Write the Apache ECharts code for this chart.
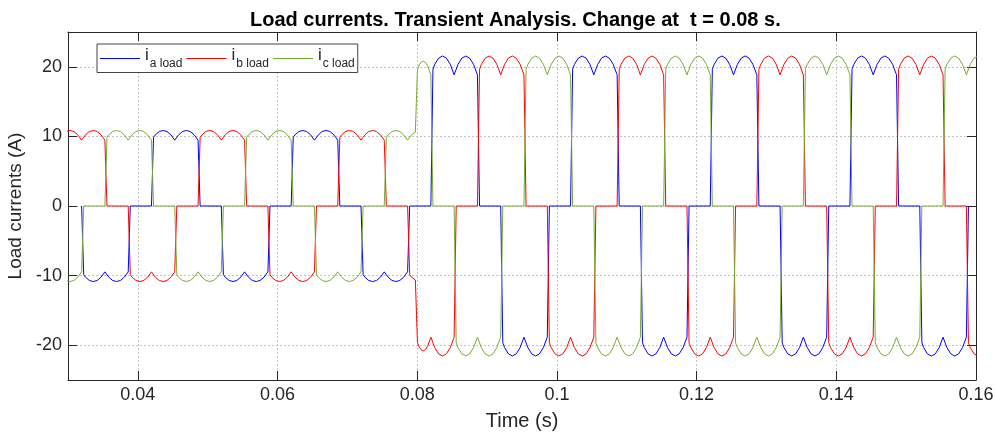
<!DOCTYPE html>
<html><head><meta charset="utf-8">
<script src="https://cdn.jsdelivr.net/npm/echarts@6/dist/echarts.min.js"></script>
<style>html,body{margin:0;padding:0;background:#fff}#c{width:995px;height:439px}</style>
</head><body><div id="c"></div>
<script>
// ---- tick labels ----
const xTicks = [0.04, 0.06, 0.08, 0.1, 0.12, 0.14, 0.16];
const yTicks = [-20, -10, 0, 10, 20];

// ---- DC-link (load) current read from the plateaus: [time s, current A] ----
const dcCurrent = [
[0.02862,9.46],[0.02918,10.23],[0.02973,10.70],[0.03029,10.85],[0.03084,10.70],[0.03140,10.23],
[0.03195,9.46],[0.03251,10.23],[0.03306,10.70],[0.03362,10.85],[0.03417,10.70],[0.03473,10.23],
[0.03528,9.46],[0.03584,10.23],[0.03639,10.70],[0.03695,10.85],[0.03750,10.70],[0.03806,10.23],
[0.03862,9.46],[0.03918,10.23],[0.03973,10.70],[0.04029,10.85],[0.04084,10.70],[0.04140,10.23],
[0.04195,9.46],[0.04251,10.23],[0.04306,10.70],[0.04362,10.85],[0.04417,10.70],[0.04473,10.23],
[0.04528,9.46],[0.04584,10.23],[0.04639,10.70],[0.04695,10.85],[0.04750,10.70],[0.04806,10.23],
[0.04862,9.46],[0.04918,10.23],[0.04973,10.70],[0.05029,10.85],[0.05084,10.70],[0.05140,10.23],
[0.05195,9.46],[0.05251,10.23],[0.05306,10.70],[0.05362,10.85],[0.05417,10.70],[0.05473,10.23],
[0.05528,9.46],[0.05584,10.23],[0.05639,10.70],[0.05695,10.85],[0.05750,10.70],[0.05806,10.23],
[0.05862,9.46],[0.05918,10.23],[0.05973,10.70],[0.06029,10.85],[0.06084,10.70],[0.06140,10.23],
[0.06195,9.46],[0.06251,10.23],[0.06306,10.70],[0.06362,10.85],[0.06417,10.70],[0.06473,10.23],
[0.06528,9.46],[0.06584,10.23],[0.06639,10.70],[0.06695,10.85],[0.06750,10.70],[0.06806,10.23],
[0.06862,9.46],[0.06918,10.23],[0.06973,10.70],[0.07029,10.85],[0.07084,10.70],[0.07140,10.23],
[0.07195,9.46],[0.07251,10.23],[0.07306,10.70],[0.07362,10.85],[0.07417,10.70],[0.07473,10.23],
[0.07528,9.46],[0.07584,10.23],[0.07639,10.70],[0.07695,10.85],[0.07750,10.70],[0.07806,10.23],
[0.07862,9.46],[0.07918,10.23],[0.07973,10.62],[0.07998,10.68],
[0.08003,19.60],[0.08030,20.30],[0.08060,20.70],[0.08090,20.80],[0.08120,20.60],[0.08150,20.10],[0.08175,19.40],
[0.08195,18.85],[0.08251,20.35],[0.08306,21.25],[0.08362,21.55],[0.08417,21.25],[0.08473,20.35],
[0.08528,18.85],[0.08584,20.35],[0.08639,21.25],[0.08695,21.55],[0.08750,21.25],[0.08806,20.35],
[0.08862,18.85],[0.08918,20.35],[0.08973,21.25],[0.09029,21.55],[0.09084,21.25],[0.09140,20.35],
[0.09195,18.85],[0.09251,20.35],[0.09306,21.25],[0.09362,21.55],[0.09417,21.25],[0.09473,20.35],
[0.09528,18.85],[0.09584,20.35],[0.09639,21.25],[0.09695,21.55],[0.09750,21.25],[0.09806,20.35],
[0.09862,18.85],[0.09918,20.35],[0.09973,21.25],[0.10029,21.55],[0.10084,21.25],[0.10140,20.35],
[0.10195,18.85],[0.10251,20.35],[0.10306,21.25],[0.10362,21.55],[0.10417,21.25],[0.10473,20.35],
[0.10528,18.85],[0.10584,20.35],[0.10639,21.25],[0.10695,21.55],[0.10750,21.25],[0.10806,20.35],
[0.10862,18.85],[0.10918,20.35],[0.10973,21.25],[0.11029,21.55],[0.11084,21.25],[0.11140,20.35],
[0.11195,18.85],[0.11251,20.35],[0.11306,21.25],[0.11362,21.55],[0.11417,21.25],[0.11473,20.35],
[0.11528,18.85],[0.11584,20.35],[0.11639,21.25],[0.11695,21.55],[0.11750,21.25],[0.11806,20.35],
[0.11862,18.85],[0.11918,20.35],[0.11973,21.25],[0.12029,21.55],[0.12084,21.25],[0.12140,20.35],
[0.12195,18.85],[0.12251,20.35],[0.12306,21.25],[0.12362,21.55],[0.12417,21.25],[0.12473,20.35],
[0.12528,18.85],[0.12584,20.35],[0.12639,21.25],[0.12695,21.55],[0.12750,21.25],[0.12806,20.35],
[0.12862,18.85],[0.12918,20.35],[0.12973,21.25],[0.13029,21.55],[0.13084,21.25],[0.13140,20.35],
[0.13195,18.85],[0.13251,20.35],[0.13306,21.25],[0.13362,21.55],[0.13417,21.25],[0.13473,20.35],
[0.13528,18.85],[0.13584,20.35],[0.13639,21.25],[0.13695,21.55],[0.13750,21.25],[0.13806,20.35],
[0.13862,18.85],[0.13918,20.35],[0.13973,21.25],[0.14029,21.55],[0.14084,21.25],[0.14140,20.35],
[0.14195,18.85],[0.14251,20.35],[0.14306,21.25],[0.14362,21.55],[0.14417,21.25],[0.14473,20.35],
[0.14528,18.85],[0.14584,20.35],[0.14639,21.25],[0.14695,21.55],[0.14750,21.25],[0.14806,20.35],
[0.14862,18.85],[0.14918,20.35],[0.14973,21.25],[0.15029,21.55],[0.15084,21.25],[0.15140,20.35],
[0.15195,18.85],[0.15251,20.35],[0.15306,21.25],[0.15362,21.55],[0.15417,21.25],[0.15473,20.35],
[0.15528,18.85],[0.15584,20.35],[0.15639,21.25],[0.15695,21.55],[0.15750,21.25],[0.15806,20.35],
[0.15862,18.85],[0.15918,20.35],[0.15973,21.25],[0.16029,21.55],[0.16084,21.25],[0.16140,20.35],
[0.16195,18.85]
];

// ---- conduction intervals of each phase: [start s, end s, sign] ----
const phaseA = [[0.03195,0.03862,-1],[0.04195,0.04862,1],[0.05195,0.05862,-1],[0.06195,0.06862,1],
  [0.07195,0.07862,-1],[0.08195,0.08862,1],[0.09195,0.09862,-1],[0.10195,0.10862,1],[0.11195,0.11862,-1],
  [0.12195,0.12862,1],[0.13195,0.13862,-1],[0.14195,0.14862,1],[0.15195,0.15862,-1]];
const phaseB = [[0.02862,0.03528,1],[0.03862,0.04528,-1],[0.04862,0.05528,1],[0.05862,0.06528,-1],
  [0.06862,0.07528,1],[0.07862,0.08528,-1],[0.08862,0.09528,1],[0.09862,0.10528,-1],[0.10862,0.11528,1],
  [0.11862,0.12528,-1],[0.12862,0.13528,1],[0.13862,0.14528,-1],[0.14862,0.15528,1],[0.15862,0.16195,-1]];
const phaseC = [[0.02862,0.03195,-1],[0.03528,0.04195,1],[0.04528,0.05195,-1],[0.05528,0.06195,1],
  [0.06528,0.07195,-1],[0.07528,0.08195,1],[0.08528,0.09195,-1],[0.09528,0.10195,1],[0.10528,0.11195,-1],
  [0.11528,0.12195,1],[0.12528,0.13195,-1],[0.13528,0.14195,1],[0.14528,0.15195,-1],[0.15528,0.16195,1]];
const commutationTime = 0.0003; // width of each switching edge

function dcAt(t) {
  const d = dcCurrent;
  if (t <= d[0][0]) return d[0][1];
  for (let i = 0; i < d.length - 1; i++) {
    if (t >= d[i][0] && t <= d[i + 1][0]) {
      const f = (t - d[i][0]) / (d[i + 1][0] - d[i][0]);
      return d[i][1] + f * (d[i + 1][1] - d[i][1]);
    }
  }
  return d[d.length - 1][1];
}
function buildPhase(iv) {
  const u = commutationTime, pts = [];
  iv.forEach(([a, b, s]) => {
    pts.push([a, 0]);
    pts.push([a + u, s * dcAt(a + u)]);
    dcCurrent.forEach(p => { if (p[0] > a + u && p[0] < b) pts.push([p[0], s * p[1]]); });
    pts.push([b, s * dcAt(b)]);
    pts.push([b + u, 0]);
  });
  return pts;
}

const FONT = "'Liberation Sans', Arial, Helvetica, sans-serif";
const DARK = '#262626';
const names = { ia: '{i|i}{s|a load}', ib: '{i|i}{s|b load}', ic: '{i|i}{s|c load}' };

function mkSeries(name, data, color) {
  return { name, type: 'line', data, showSymbol: false, symbol: 'none', clip: true,
    lineStyle: { width: 1, color }, itemStyle: { color }, animation: false, z: 3 };
}

const chart = echarts.init(document.getElementById('c'), null, { renderer: 'canvas' });
chart.setOption({
  animation: false,
  backgroundColor: '#fff',
  title: { text: 'Load currents. Transient Analysis. Change at  t = 0.08 s.', left: 245, top: 5,
    textStyle: { fontFamily: FONT, fontSize: 20, fontWeight: 'bold', color: '#000' } },
  legend: {
    left: 97, top: 44, icon: 'rect', itemWidth: 40, itemHeight: 1, itemGap: 4, padding: [3, 3, 3, 3],
    borderColor: '#444', borderWidth: 1, backgroundColor: '#fff',
    formatter: n => names[n],
    textStyle: { fontFamily: FONT, color: DARK,
      rich: { i: { fontSize: 17, fontFamily: FONT, color: DARK, padding: [0, 0, 6, 0] },
              s: { fontSize: 12, fontFamily: FONT, color: DARK, padding: [10, 0, 0, 1] } } }
  },
  grid: { left: 68, right: 19, top: 32, bottom: 59, containLabel: false, outerBoundsMode: 'none' },
  xAxis: [
    { type: 'value', min: 0.03, max: 0.16, position: 'bottom',
      axisLine: { show: true, onZero: false, lineStyle: { color: DARK, width: 1 } },
      axisTick: { show: true, inside: true, length: 9, customValues: xTicks, lineStyle: { color: DARK } },
      axisLabel: { customValues: xTicks, fontSize: 18, color: DARK, margin: 6, fontFamily: FONT },
      splitLine: { show: true, lineStyle: { type: [2, 2], color: '#c4c4c4', width: 1 } },
      name: 'Time (s)', nameLocation: 'middle', nameGap: 31,
      nameTextStyle: { fontSize: 20, color: DARK, fontFamily: FONT } },
    { type: 'value', min: 0.03, max: 0.16, position: 'top',
      axisLine: { show: true, onZero: false, lineStyle: { color: DARK, width: 1 } },
      axisTick: { show: true, inside: true, length: 9, customValues: xTicks, lineStyle: { color: DARK } },
      axisLabel: { show: false }, splitLine: { show: false } }
  ],
  yAxis: [
    { type: 'value', min: -25, max: 25, position: 'left',
      axisLine: { show: true, onZero: false, lineStyle: { color: DARK, width: 1 } },
      axisTick: { show: true, inside: true, length: 9, customValues: yTicks, lineStyle: { color: DARK } },
      axisLabel: { customValues: yTicks, fontSize: 18, color: DARK, margin: 6, fontFamily: FONT },
      splitLine: { show: true, lineStyle: { type: [2, 2], color: '#c4c4c4', width: 1 } },
      name: 'Load currents (A)', nameLocation: 'middle', nameGap: 37,
      nameTextStyle: { fontSize: 19, color: DARK, fontFamily: FONT } },
    { type: 'value', min: -25, max: 25, position: 'right',
      axisLine: { show: true, onZero: false, lineStyle: { color: DARK, width: 1 } },
      axisTick: { show: true, inside: true, length: 9, customValues: yTicks, lineStyle: { color: DARK } },
      axisLabel: { show: false }, splitLine: { show: false } }
  ],
  series: [
    mkSeries('ia', buildPhase(phaseA), '#0000ff'),
    mkSeries('ib', buildPhase(phaseB), '#ff0000'),
    mkSeries('ic', buildPhase(phaseC), '#77ac30')
  ]
});
</script></body></html>
